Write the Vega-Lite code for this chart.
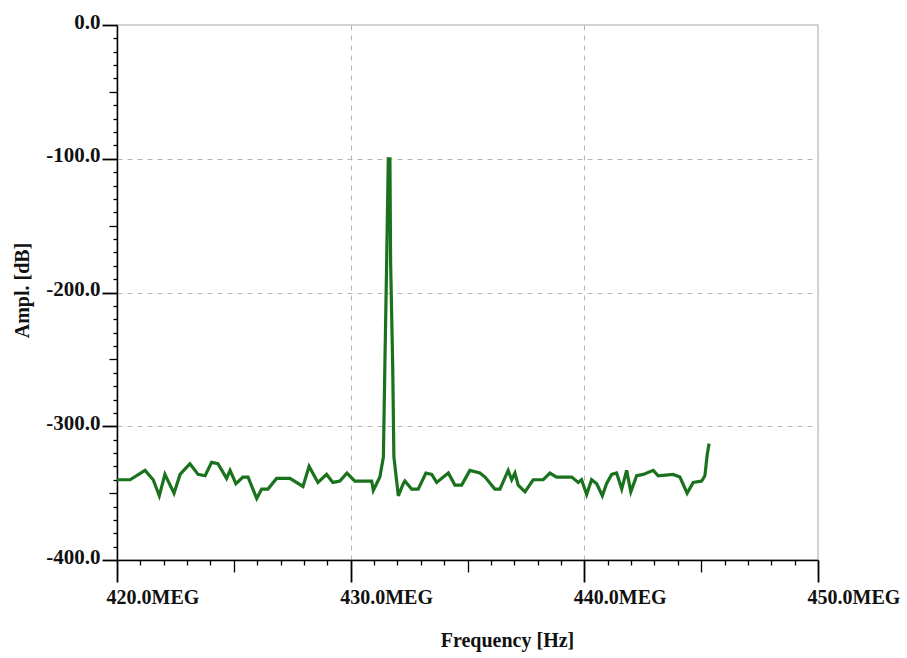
{
  "$schema": "https://vega.github.io/schema/vega-lite/v6.json",
  "autosize": "none",
  "width": 701,
  "height": 535,
  "padding": {"left": 117, "top": 25, "right": 89, "bottom": 98},
  "background": "white",
  "config": {
    "view": {"stroke": "#c4c4c4", "strokeWidth": 1.5},
    "font": "Liberation Serif"
  },
  "data": {
    "values": [
      {"f": 420.0, "a": -340}, {"f": 420.56, "a": -340}, {"f": 421.2, "a": -333},
      {"f": 421.55, "a": -340}, {"f": 421.81, "a": -352}, {"f": 422.05, "a": -336},
      {"f": 422.44, "a": -350}, {"f": 422.7, "a": -336}, {"f": 423.12, "a": -328},
      {"f": 423.47, "a": -336}, {"f": 423.77, "a": -337}, {"f": 424.05, "a": -327},
      {"f": 424.32, "a": -328}, {"f": 424.69, "a": -339}, {"f": 424.84, "a": -333},
      {"f": 425.09, "a": -343}, {"f": 425.39, "a": -338}, {"f": 425.61, "a": -338},
      {"f": 425.98, "a": -354}, {"f": 426.19, "a": -347}, {"f": 426.46, "a": -347},
      {"f": 426.83, "a": -339}, {"f": 427.4, "a": -339}, {"f": 427.96, "a": -345},
      {"f": 428.22, "a": -330}, {"f": 428.6, "a": -342}, {"f": 428.97, "a": -336},
      {"f": 429.24, "a": -342}, {"f": 429.54, "a": -341}, {"f": 429.84, "a": -335},
      {"f": 430.18, "a": -341}, {"f": 430.9, "a": -341}, {"f": 430.97, "a": -348},
      {"f": 431.25, "a": -338}, {"f": 431.4, "a": -323}, {"f": 431.47, "a": -248},
      {"f": 431.54, "a": -178}, {"f": 431.61, "a": -100}, {"f": 431.68, "a": -100},
      {"f": 431.71, "a": -178}, {"f": 431.8, "a": -256}, {"f": 431.85, "a": -323},
      {"f": 432.04, "a": -352}, {"f": 432.25, "a": -343}, {"f": 432.32, "a": -341},
      {"f": 432.61, "a": -347}, {"f": 432.89, "a": -347}, {"f": 433.22, "a": -335},
      {"f": 433.47, "a": -336}, {"f": 433.68, "a": -342}, {"f": 434.18, "a": -335},
      {"f": 434.46, "a": -344}, {"f": 434.75, "a": -344}, {"f": 435.1, "a": -333},
      {"f": 435.53, "a": -335}, {"f": 435.75, "a": -338}, {"f": 436.17, "a": -347},
      {"f": 436.39, "a": -347}, {"f": 436.74, "a": -333}, {"f": 436.89, "a": -340},
      {"f": 437.03, "a": -335}, {"f": 437.17, "a": -344}, {"f": 437.46, "a": -349},
      {"f": 437.81, "a": -340}, {"f": 438.24, "a": -340}, {"f": 438.53, "a": -335},
      {"f": 438.81, "a": -338}, {"f": 439.46, "a": -338}, {"f": 439.74, "a": -342},
      {"f": 439.88, "a": -340}, {"f": 440.1, "a": -351}, {"f": 440.31, "a": -340},
      {"f": 440.53, "a": -343}, {"f": 440.77, "a": -352}, {"f": 440.95, "a": -343},
      {"f": 441.17, "a": -336}, {"f": 441.38, "a": -335}, {"f": 441.6, "a": -347},
      {"f": 441.81, "a": -333}, {"f": 441.99, "a": -349}, {"f": 442.24, "a": -337},
      {"f": 442.52, "a": -336}, {"f": 442.95, "a": -333}, {"f": 443.16, "a": -337},
      {"f": 443.8, "a": -336}, {"f": 444.09, "a": -338}, {"f": 444.4, "a": -350},
      {"f": 444.66, "a": -342}, {"f": 445.02, "a": -341}, {"f": 445.16, "a": -337},
      {"f": 445.26, "a": -321}, {"f": 445.34, "a": -313}
    ]
  },
  "mark": {"type": "line", "color": "#1a721d", "strokeWidth": 3.2, "strokeJoin": "miter", "clip": true},
  "encoding": {
    "x": {
      "field": "f",
      "type": "quantitative",
      "scale": {"domain": [420, 450], "nice": false, "zero": false},
      "axis": {
        "title": "Frequency [Hz]",
        "values": [420,421,422,423,424,425,426,427,428,429,430,431,432,433,434,435,436,437,438,439,440,441,442,443,444,445,446,447,448,449,450],
        "labelExpr": "datum.value % 10 === 0 ? format(datum.value, '.1f') + 'MEG' : ''",
        "labelFont": "Liberation Serif",
        "labelFontWeight": "bold",
        "labelFontSize": 20,
        "labelColor": "#111",
        "labelAlign": "left",
        "labelOffset": -11,
        "labelPadding": 5,
        "labelOverlap": false,
        "labelFlush": false,
        "domainColor": "#000",
        "domainWidth": 1.5,
        "tickColor": "#000",
        "tickWidth": {"condition": {"test": "datum.value % 10 === 0", "value": 1.8}, "value": 1.3},
        "tickSize": {"condition": [{"test": "datum.value % 10 === 0", "value": 22}, {"test": "datum.value % 5 === 0", "value": 12}], "value": 5},
        "grid": true,
        "gridColor": "#b5b5b5",
        "gridDash": [5, 5],
        "gridWidth": 1,
        "gridOpacity": {"condition": {"test": "datum.value === 430 || datum.value === 440", "value": 1}, "value": 0},
        "titleFont": "Liberation Serif",
        "titleFontWeight": "bold",
        "titleFontSize": 20,
        "titleColor": "#111",
        "titleX": 390,
        "titleY": 86,
        "titleBaseline": "alphabetic"
      }
    },
    "y": {
      "field": "a",
      "type": "quantitative",
      "scale": {"domain": [-400, 0], "nice": false, "zero": false},
      "axis": {
        "title": "Ampl. [dB]",
        "values": [-400,-390,-380,-370,-360,-350,-340,-330,-320,-310,-300,-290,-280,-270,-260,-250,-240,-230,-220,-210,-200,-190,-180,-170,-160,-150,-140,-130,-120,-110,-100,-90,-80,-70,-60,-50,-40,-30,-20,-10,0],
        "labelExpr": "datum.value % 100 === 0 ? replace(format(datum.value, '.1f'), '\u2212', '-') : ''",
        "labelFont": "Liberation Serif",
        "labelFontWeight": "bold",
        "labelFontSize": 21,
        "labelColor": "#111",
        "labelPadding": 2,
        "labelOffset": -3,
        "labelOverlap": false,
        "labelFlush": false,
        "domainColor": "#000",
        "domainWidth": 1.5,
        "tickColor": "#000",
        "tickWidth": {"condition": {"test": "datum.value % 100 === 0", "value": 1.8}, "value": 1.3},
        "tickSize": {"condition": [{"test": "datum.value % 100 === 0", "value": 15}, {"test": "datum.value % 50 === 0", "value": 8}], "value": 4},
        "grid": true,
        "gridColor": "#b5b5b5",
        "gridDash": [5, 5],
        "gridWidth": 1,
        "gridOpacity": {"condition": {"test": "datum.value === -100 || datum.value === -200 || datum.value === -300", "value": 1}, "value": 0},
        "titleFont": "Liberation Serif",
        "titleFontWeight": "bold",
        "titleFontSize": 20,
        "titleColor": "#111",
        "titleAngle": -90,
        "titleX": -95,
        "titleY": 265,
        "titleBaseline": "middle",
        "titleAlign": "center"
      }
    }
  }
}
